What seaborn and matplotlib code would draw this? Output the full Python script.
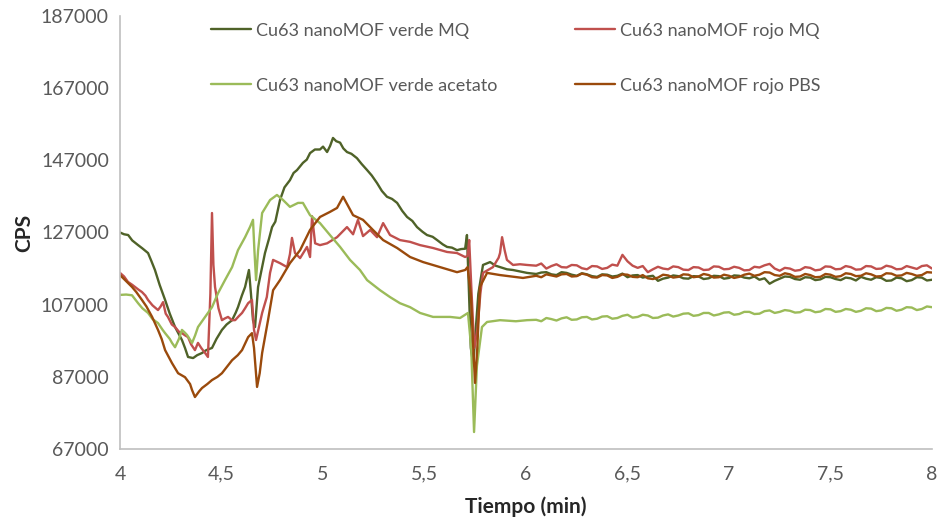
import matplotlib
matplotlib.use("Agg")
import matplotlib.pyplot as plt
import seaborn as sns
import pandas as pd
from matplotlib.ticker import FixedLocator, FixedFormatter

# --- Shared sampling times for the stable part of the run (min) ---
late_t = [6.050, 6.075, 6.100, 6.125, 6.150, 6.175, 6.200, 6.225, 6.250, 6.275, 6.300, 6.325, 6.350,
          6.375, 6.400, 6.425, 6.450, 6.475, 6.500, 6.525, 6.550, 6.575, 6.600, 6.625, 6.650, 6.675,
          6.700, 6.725, 6.750, 6.775, 6.800, 6.825, 6.850, 6.875, 6.900, 6.925, 6.950, 6.975, 7.000,
          7.025, 7.050, 7.075, 7.100, 7.125, 7.150, 7.175, 7.200, 7.225, 7.250, 7.275, 7.300, 7.325,
          7.350, 7.375, 7.400, 7.425, 7.450, 7.475, 7.500, 7.525, 7.550, 7.575, 7.600, 7.625, 7.650,
          7.675, 7.700, 7.725, 7.750, 7.775, 7.800, 7.825, 7.850, 7.875, 7.900, 7.925, 7.950, 7.975,
          8.000]

# --- Cu63 nanoMOF verde MQ ---
verde_mq_t = [4.000, 4.020, 4.040, 4.060, 4.089, 4.110, 4.138, 4.155, 4.172, 4.195, 4.222, 4.245,
              4.271, 4.290, 4.305, 4.320, 4.335, 4.360, 4.380, 4.404, 4.425, 4.453, 4.475, 4.502,
              4.525, 4.552, 4.570, 4.581, 4.600, 4.616, 4.635, 4.645, 4.655, 4.665, 4.680, 4.700,
              4.714, 4.735, 4.749, 4.765, 4.788, 4.810, 4.837, 4.855, 4.872, 4.901, 4.920, 4.936,
              4.960, 4.985, 5.000, 5.020, 5.035, 5.049, 5.065, 5.084, 5.100, 5.118, 5.140, 5.167,
              5.190, 5.217, 5.240, 5.266, 5.290, 5.315, 5.340, 5.365, 5.390, 5.414, 5.440, 5.463,
              5.490, 5.512, 5.540, 5.562, 5.590, 5.611, 5.635, 5.660, 5.680, 5.700, 5.709, 5.718,
              5.728, 5.740, 5.752, 5.765, 5.788, 5.823, 5.850, 5.872, 5.906, 5.936, 5.970, 6.005] + late_t
verde_mq_v = [127000, 126500, 126300, 124800, 123500, 122600, 121300, 119000, 116600, 112500, 108300, 104500,
              100800, 98800, 97200, 95000, 92500, 92200, 93000, 93600, 94400, 95000, 97500, 100000,
              101500, 102700, 104800, 106300, 109500, 111900, 116600, 110000, 102700, 100800, 111900, 117500,
              121300, 125500, 128500, 130000, 136000, 139500, 141500, 143500, 144300, 146300, 147200, 149000,
              150000, 150000, 150800, 149300, 151000, 153200, 152300, 151900, 150300, 149300, 148800, 147600,
              146000, 144300, 142800, 140700, 138500, 136900, 136300, 135200, 133000, 131300, 130200, 128500,
              127200, 126300, 125800, 124900, 123700, 123000, 122800, 122100, 122400, 122500, 126300, 112000,
              95000, 90500, 100000, 110000, 118000, 118800, 117800, 117400, 116800, 116600, 116200, 115800,
              115500, 115900, 116000, 115400, 115200, 116000, 115800, 115300, 115000, 115700, 115400, 114900, 114700,
              115400, 115300, 114800, 115000, 115600, 114600, 115100, 115200, 114500, 114800, 115000, 113600, 114200,
              114500, 115100, 114900, 114300, 114200, 114900, 114800, 114100, 114300, 115000, 114900, 114200, 114400,
              115100, 115000, 114500, 114300, 114800, 113900, 114300, 112800, 113600, 114200, 114800, 114700, 114100,
              113900, 114600, 114500, 113800, 114000, 114700, 114600, 114100, 113800, 114500, 114300, 113700, 114700,
              114200, 113900, 114600, 114400, 113600, 113700, 114500, 114300, 113500, 113800, 114600, 114500, 113700,
              113900]

# --- Cu63 nanoMOF rojo MQ ---
rojo_mq_t = [4.000, 4.020, 4.039, 4.060, 4.074, 4.090, 4.108, 4.125, 4.138, 4.160, 4.187, 4.200,
             4.212, 4.225, 4.236, 4.255, 4.271, 4.290, 4.305, 4.320, 4.335, 4.350, 4.369, 4.384,
             4.400, 4.419, 4.433, 4.445, 4.453, 4.460, 4.468, 4.485, 4.502, 4.517, 4.532, 4.552,
             4.567, 4.585, 4.601, 4.616, 4.631, 4.650, 4.660, 4.670, 4.685, 4.700, 4.723, 4.739,
             4.754, 4.788, 4.823, 4.837, 4.847, 4.862, 4.887, 4.921, 4.936, 4.946, 4.961, 4.985,
             5.020, 5.069, 5.118, 5.148, 5.172, 5.197, 5.232, 5.266, 5.296, 5.330, 5.379, 5.429,
             5.478, 5.542, 5.611, 5.660, 5.700, 5.712, 5.720, 5.732, 5.745, 5.760, 5.775, 5.788,
             5.837, 5.865, 5.872, 5.882, 5.895, 5.906, 5.936, 5.970, 6.005] + late_t
rojo_mq_v = [115800, 114800, 113300, 112500, 111900, 111200, 110500, 109500, 108300, 106800, 105500, 106500,
             107700, 104500, 103600, 101500, 100800, 99500, 99100, 98500, 98000, 96000, 94400, 96400,
             95000, 93600, 92500, 110000, 132400, 118000, 111900, 106000, 102700, 103200, 103600, 102700,
             102700, 103800, 104700, 106000, 107400, 108300, 100000, 97200, 101000, 104700, 109100, 115800,
             119400, 118500, 117400, 121000, 125500, 121300, 119900, 123000, 120200, 131500, 124000, 123500,
             124000, 125700, 128500, 126500, 130500, 126000, 127700, 125700, 129600, 126300, 124900, 124400,
             123500, 122700, 121600, 121300, 120200, 120500, 124900, 110000, 95000, 100000, 110000, 115800,
             117400, 120000, 121300, 125700, 122000, 119400, 118000, 118200, 118000,
             117800, 118400, 117000, 117700, 118200, 117400, 117300, 118000, 117900, 117100, 116800, 117700, 117600,
             116900, 117200, 118100, 117800, 120800, 119000, 117800, 117200, 117700, 116000, 116800, 117500, 117000,
             116800, 117600, 117400, 116700, 116600, 117400, 117300, 116600, 116700, 117600, 117500, 116800, 116900,
             117500, 117200, 116500, 116600, 117500, 117300, 117900, 118300, 117000, 116400, 117200, 117000, 116400,
             116600, 117400, 117200, 116500, 116700, 117600, 117500, 116800, 116900, 117700, 117400, 116700, 116800,
             117700, 117600, 116900, 117000, 117800, 117500, 116800, 116900, 117700, 117300, 116900, 117700, 117900,
             117000]

# --- Cu63 nanoMOF verde acetato ---
verde_acetato_t = [4.000, 4.030, 4.059, 4.089, 4.110, 4.138, 4.160, 4.187, 4.210, 4.222, 4.245, 4.256,
                   4.271, 4.290, 4.305, 4.320, 4.330, 4.355, 4.370, 4.384, 4.419, 4.453, 4.483, 4.517,
                   4.552, 4.581, 4.616, 4.640, 4.655, 4.662, 4.670, 4.680, 4.700, 4.739, 4.773, 4.803,
                   4.837, 4.877, 4.901, 4.936, 4.985, 5.034, 5.084, 5.133, 5.182, 5.217, 5.281, 5.330,
                   5.379, 5.429, 5.478, 5.542, 5.626, 5.675, 5.714, 5.730, 5.744, 5.758, 5.783, 5.808,
                   5.872, 5.950, 6.005] + late_t
verde_acetato_v = [109700, 109800, 109600, 107400, 106000, 104700, 103000, 101900, 100000, 99100, 97500, 96400,
                   95200, 97500, 100000, 99200, 98600, 96400, 98500, 100800, 103600, 106300, 110200, 113800,
                   117400, 122100, 125700, 128500, 130500, 122000, 113800, 122000, 132400, 136000, 137400, 136000,
                   134100, 135200, 135200, 131800, 129600, 126300, 123000, 119400, 116600, 113800, 111000, 109100,
                   107400, 106300, 104700, 103600, 103600, 103300, 104700, 95000, 71700, 90000, 100800, 102200,
                   102700, 102400, 102700,
                   102800, 102400, 103300, 103000, 102600, 103200, 103500, 102800, 102900, 103500, 103600, 102900, 103100,
                   103700, 103800, 103100, 103300, 103900, 104200, 103400, 103600, 104200, 104000, 103300, 103400, 104000,
                   104300, 103700, 104000, 104500, 104600, 103900, 104100, 104700, 104700, 104000, 104300, 104800, 104900,
                   104200, 104400, 105000, 105000, 104400, 104500, 105200, 105400, 104700, 105000, 105500, 105300, 104800,
                   104900, 105600, 105500, 104900, 105100, 105800, 105700, 105000, 105200, 105800, 105600, 105000, 105300,
                   106000, 105900, 105200, 105400, 106100, 106000, 105300, 105600, 106300, 106200, 105500, 105800, 106500,
                   106300]

# --- Cu63 nanoMOF rojo PBS ---
rojo_pbs_t = [4.000, 4.030, 4.059, 4.080, 4.108, 4.130, 4.158, 4.187, 4.205, 4.222, 4.240, 4.256,
              4.286, 4.320, 4.345, 4.355, 4.369, 4.390, 4.404, 4.430, 4.453, 4.480, 4.502, 4.530,
              4.552, 4.580, 4.601, 4.631, 4.650, 4.660, 4.675, 4.688, 4.700, 4.729, 4.754, 4.788,
              4.837, 4.887, 4.936, 4.985, 5.034, 5.069, 5.099, 5.148, 5.197, 5.246, 5.296, 5.365,
              5.429, 5.493, 5.576, 5.660, 5.700, 5.712, 5.728, 5.740, 5.749, 5.760, 5.773, 5.808,
              5.872, 5.985] + late_t
rojo_pbs_v = [115200, 113500, 111900, 110500, 108300, 106500, 103600, 100000, 97500, 94400, 92500, 90800,
              88000, 86900, 85000, 83300, 81400, 83000, 83900, 85000, 86100, 87000, 88000, 90000,
              91600, 93000, 94400, 98000, 99100, 95000, 84200, 88000, 93600, 102700, 111000, 113800,
              118500, 122100, 127700, 131300, 132700, 133800, 136900, 131800, 130500, 127700, 124900, 122700,
              120200, 118800, 117400, 116000, 116600, 117400, 110000, 95000, 85300, 95000, 111900, 115800,
              115200, 114400,
              115000, 114600, 115400, 115100, 114800, 115400, 115500, 114800, 114900, 115600, 115300, 114600, 114500,
              115200, 115100, 114400, 114700, 115400, 115300, 114700, 114600, 115200, 114300, 114100, 114500, 115300,
              115100, 114500, 114700, 115400, 115300, 114600, 114800, 115500, 115200, 114500, 114600, 115300, 115000,
              114400, 114700, 115300, 115600, 115000, 115300, 116000, 115900, 115200, 115000, 115700, 115400, 114700,
              114800, 115500, 115200, 114600, 114700, 115500, 115300, 114700, 114900, 115700, 115500, 114900, 115000,
              115700, 115400, 114800, 114900, 115700, 115600, 115000, 115100, 115800, 115500, 115000, 115200, 116000,
              115900]

series_names = ["Cu63 nanoMOF verde MQ", "Cu63 nanoMOF rojo MQ",
                "Cu63 nanoMOF verde acetato", "Cu63 nanoMOF rojo PBS"]
series_colors = ["#4F6228", "#C0504D", "#9BBB59", "#9A4A0C"]

y_ticks = [67000, 87000, 107000, 127000, 147000, 167000, 187000]
x_ticks = [4, 4.5, 5, 5.5, 6, 6.5, 7, 7.5, 8]
x_tick_labels = ["4", "4,5", "5", "5,5", "6", "6,5", "7", "7,5", "8"]

frames = []
for name, t, v in zip(series_names,
                      [verde_mq_t, rojo_mq_t, verde_acetato_t, rojo_pbs_t],
                      [verde_mq_v, rojo_mq_v, verde_acetato_v, rojo_pbs_v]):
    frames.append(pd.DataFrame({"Tiempo": t, "CPS": v, "Serie": name}))
df = pd.concat(frames, ignore_index=True)

sns.set_theme(style="white")
plt.rcParams["font.family"] = ["Lato", "DejaVu Sans"]

fig = plt.figure(figsize=(9.4, 5.19), dpi=100)
ax = fig.add_axes([0.1277, 0.1349, 0.8638, 0.8343])

sns.lineplot(data=df, x="Tiempo", y="CPS", hue="Serie", hue_order=series_names,
             palette=series_colors, estimator=None, sort=False, linewidth=1.7,
             ax=ax, legend=False)

ax.set_xlim(4, 8)
ax.set_ylim(67000, 187000)
ax.xaxis.set_major_locator(FixedLocator(x_ticks))
ax.xaxis.set_major_formatter(FixedFormatter(x_tick_labels))
ax.yaxis.set_major_locator(FixedLocator(y_ticks))
ax.tick_params(axis="both", length=0, labelsize=14, colors="#595959", pad=8)
ax.tick_params(axis="x", pad=12)

for side in ["top", "right"]:
    ax.spines[side].set_visible(False)
for side in ["left", "bottom"]:
    ax.spines[side].set_color("#BFBFBF")
    ax.spines[side].set_linewidth(1.2)

ax.set_xlabel("Tiempo (min)", fontsize=15, fontweight="bold", color="#262626", labelpad=10)
ax.set_ylabel("CPS", fontsize=15, fontweight="bold", color="#262626", labelpad=5)

# Legend: two columns, filled row by row
lines = ax.get_lines()
order = [0, 2, 1, 3]
handles = [lines[i] for i in order]
labels = [series_names[i] for i in order]
ax.legend(handles, labels, ncol=2, loc="upper left", bbox_to_anchor=(0.092, 1.022),
          frameon=False, fontsize=13, labelcolor="#595959", handlelength=2.2,
          handletextpad=0.28, columnspacing=4.3, labelspacing=2.15)

fig.savefig("out.png", dpi=100)
